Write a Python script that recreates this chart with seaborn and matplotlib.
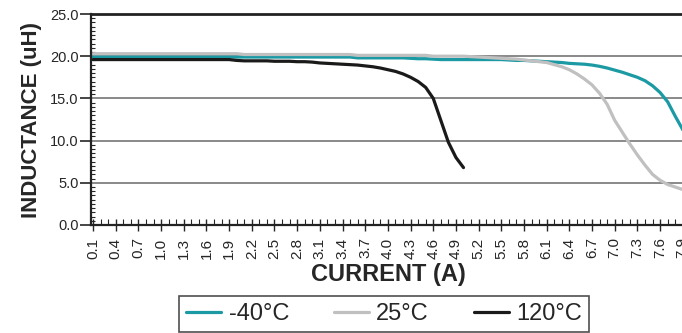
import numpy as np
import pandas as pd
import matplotlib
matplotlib.use("Agg")
import matplotlib.pyplot as plt
import seaborn as sns
from matplotlib.ticker import MultipleLocator, FixedLocator

# Corrente (A) em passos de 0.1
corrente = [round(0.1 * i, 1) for i in range(1, 81)]

# -40°C
l_menos40 = [19.9, 19.9, 19.9, 19.9, 19.9, 19.9, 19.9, 19.9, 19.9, 19.9,
             19.9, 19.9, 19.9, 19.9, 19.9, 19.9, 19.9, 19.9, 19.9, 19.9,
             19.9, 19.9, 19.9, 19.9, 19.9, 19.9, 19.9, 19.9, 19.9, 19.9,
             19.9, 19.9, 19.9, 19.9, 19.9, 19.8, 19.8, 19.8, 19.8, 19.8,
             19.8, 19.8, 19.75, 19.7, 19.7, 19.65, 19.6, 19.6, 19.6, 19.6,
             19.6, 19.6, 19.6, 19.6, 19.6, 19.55, 19.5, 19.5, 19.45, 19.4,
             19.35, 19.3, 19.25, 19.15, 19.1, 19.05, 18.95, 18.8, 18.6, 18.35,
             18.1, 17.8, 17.5, 17.1, 16.5, 15.7, 14.6, 12.9, 11.3, 9.8]

# 25°C
l_25 = [20.3, 20.3, 20.3, 20.3, 20.3, 20.3, 20.3, 20.3, 20.3, 20.3,
        20.3, 20.3, 20.3, 20.3, 20.3, 20.3, 20.3, 20.3, 20.3, 20.3,
        20.2, 20.2, 20.2, 20.2, 20.2, 20.2, 20.2, 20.2, 20.2, 20.2,
        20.2, 20.2, 20.2, 20.2, 20.2, 20.1, 20.1, 20.1, 20.1, 20.1,
        20.1, 20.1, 20.1, 20.1, 20.1, 20.0, 20.0, 20.0, 20.0, 20.0,
        19.95, 19.9, 19.85, 19.8, 19.75, 19.7, 19.65, 19.55, 19.45, 19.35,
        19.25, 19.0, 18.75, 18.4, 17.9, 17.3, 16.6, 15.6, 14.3, 12.4,
        11.0, 9.6, 8.3, 7.1, 6.0, 5.3, 4.8, 4.5, 4.2, 4.0]

# 120°C (0.1 a 5.0 A)
l_120 = [19.6, 19.6, 19.6, 19.6, 19.6, 19.6, 19.6, 19.6, 19.6, 19.6,
         19.6, 19.6, 19.6, 19.6, 19.6, 19.6, 19.6, 19.6, 19.6, 19.5,
         19.45, 19.45, 19.45, 19.45, 19.4, 19.4, 19.4, 19.35, 19.35, 19.3,
         19.2, 19.15, 19.1, 19.05, 19.0, 18.95, 18.85, 18.75, 18.6, 18.4,
         18.2, 17.9, 17.5, 17.0, 16.3, 15.0, 12.4, 9.8, 8.0, 6.8]

df = pd.concat([
    pd.DataFrame({'corrente': corrente, 'L': l_menos40, 'temp': '-40°C'}),
    pd.DataFrame({'corrente': corrente, 'L': l_25, 'temp': '25°C'}),
    pd.DataFrame({'corrente': corrente[:len(l_120)], 'L': l_120, 'temp': '120°C'}),
])

sns.set_style('white')
plt.rcParams['font.family'] = ['Liberation Sans', 'DejaVu Sans']

cores = {'-40°C': '#1b9aa4', '25°C': '#c0c0c0', '120°C': '#1a1a1a'}

fig = plt.figure(figsize=(6.82, 3.33), dpi=100)
ax = fig.add_axes([91/682, 108/333, 595/682, 211/333])

sns.lineplot(df, x='corrente', y='L', hue='temp', palette=cores,
             hue_order=['-40°C', '25°C', '120°C'], linewidth=2.3, ax=ax)

ax.set_ylim(0, 25)
ax.set_xlim(0.073, 7.943)
ax.yaxis.grid(True, color='#808080', linewidth=1.3)
ax.set_axisbelow(True)
ax.axhline(25, color='#222222', linewidth=2.0, zorder=1, clip_on=False)

for s in ['right', 'top']:
    ax.spines[s].set_visible(False)
for s in ['left', 'bottom']:
    ax.spines[s].set_color('#222222')
    ax.spines[s].set_linewidth(1.6)

ax.set_yticks([0, 5, 10, 15, 20, 25], labels=['0.0', '5.0', '10.0', '15.0', '20.0', '25.0'])
ax.yaxis.set_minor_locator(MultipleLocator(0.5))
ticks_x = corrente[::3]
ax.xaxis.set_major_locator(FixedLocator(ticks_x))
ax.set_xticklabels([str(t) for t in ticks_x], rotation=90)
ax.xaxis.set_minor_locator(FixedLocator(corrente))
ax.tick_params(axis='y', which='major', direction='out', length=8, width=1.2,
               labelsize=10.5, pad=1, left=True)
ax.tick_params(axis='y', which='minor', direction='in', length=3, width=0.8, left=True)
ax.tick_params(axis='x', which='major', direction='inout', length=8, width=1.0,
               labelsize=11, pad=5, bottom=True)
ax.tick_params(axis='x', which='minor', direction='in', length=4, width=0.8, bottom=True)

ax.set_xlabel('CURRENT (A)', fontsize=17, fontweight='bold',
              family=['Liberation Sans Narrow', 'Liberation Sans'], labelpad=3)
ax.set_ylabel('INDUCTANCE (uH)', fontsize=16, fontweight='bold', labelpad=6)

ax.legend(loc='lower center', bbox_to_anchor=(384/682, 1/333), bbox_transform=fig.transFigure,
          ncol=3, frameon=True, fontsize=17, handlelength=1.5, handletextpad=0.3,
          columnspacing=1.9, borderpad=0.3, borderaxespad=0, fancybox=False,
          edgecolor='#222222', title=None)
leg = ax.get_legend()
leg.get_frame().set_linewidth(1.2)
for linha in leg.get_lines():
    linha.set_linewidth(2.3)

fig.savefig('out.png', dpi=100)
